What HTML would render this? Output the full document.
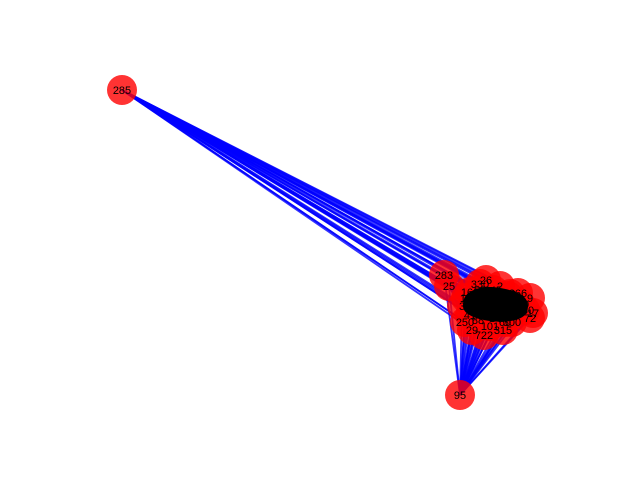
<!DOCTYPE html>
<html><head><meta charset="utf-8"><style>
html,body{margin:0;padding:0;background:#fff;}
svg{display:block;font-family:"Liberation Sans","DejaVu Sans",sans-serif;}
</style></head><body>
<svg id="chart" width="640" height="480" viewBox="0 0 640 480">
<g id="edges"></g>
<g id="nodes"></g>
<path d="M470,292 C482,284 500,287 513,291 C526,295 530,302 527,312 C523,321 505,323 490,321 C475,319 463,314 463,306 C463,299 465,295 470,292 Z" fill="#000"/>
<g id="labels"></g>
</svg>
<script>
const nodeIds = ["285","95","283","25","26","722","17","72","9","266","29","3","14","41","2","28","210","18","55","60","71","88","101","130","144","160","175","190","205","230","250","270","300","315","330","345"];
const nodeX = [122,460,444,449,486,484,533,530,530,518,472,462,466,470,500,510,520,494,480,505,515,478,490,525,498,470,485,508,495,475,465,488,512,503,480,493];
const nodeY = [90,395,275,286,280,335,313,318,298,293,330,306,298,315,286,294,304,300,290,322,310,320,326,310,318,292,300,296,312,305,322,310,322,330,284,290];
const svgNS="http://www.w3.org/2000/svg";
const eg=document.getElementById('edges'), ng=document.getElementById('nodes'), lg=document.getElementById('labels');
const n=nodeIds.length;
for(let h=0;h<2;h++){
  for(let j=2;j<n;j++){
    const l=document.createElementNS(svgNS,'line');
    
    
    l.setAttribute('x1',nodeX[h]);l.setAttribute('y1',nodeY[h]);
    l.setAttribute('x2',nodeX[j]);l.setAttribute('y2',nodeY[j]);
    l.setAttribute('stroke','#0000ff');l.setAttribute('stroke-opacity','0.8');l.setAttribute('stroke-width','1.8');
    eg.appendChild(l);
  }
}
for(let i=2;i<n;i++){for(let j=i+1;j<n;j++){
  const l=document.createElementNS(svgNS,'line');
  
  
  l.setAttribute('x1',nodeX[i]);l.setAttribute('y1',nodeY[i]);
  l.setAttribute('x2',nodeX[j]);l.setAttribute('y2',nodeY[j]);
  l.setAttribute('stroke','#0000ff');l.setAttribute('stroke-opacity','0.6');l.setAttribute('stroke-width','1');
  eg.appendChild(l);
}}
for(let i=0;i<n;i++){
  const c=document.createElementNS(svgNS,'circle');
  
  
  c.setAttribute('cx',nodeX[i]);c.setAttribute('cy',nodeY[i]);c.setAttribute('r','15');
  c.setAttribute('fill','#ff0000');c.setAttribute('fill-opacity','0.8');
  ng.appendChild(c);
  const t=document.createElementNS(svgNS,'text');
  
  
  t.setAttribute('x',nodeX[i]);t.setAttribute('y',nodeY[i]+4);
  t.setAttribute('text-anchor','middle');t.setAttribute('font-size','11');t.setAttribute('fill','#000');
  t.textContent=nodeIds[i];
  lg.appendChild(t);
}
</script>
</body></html>
